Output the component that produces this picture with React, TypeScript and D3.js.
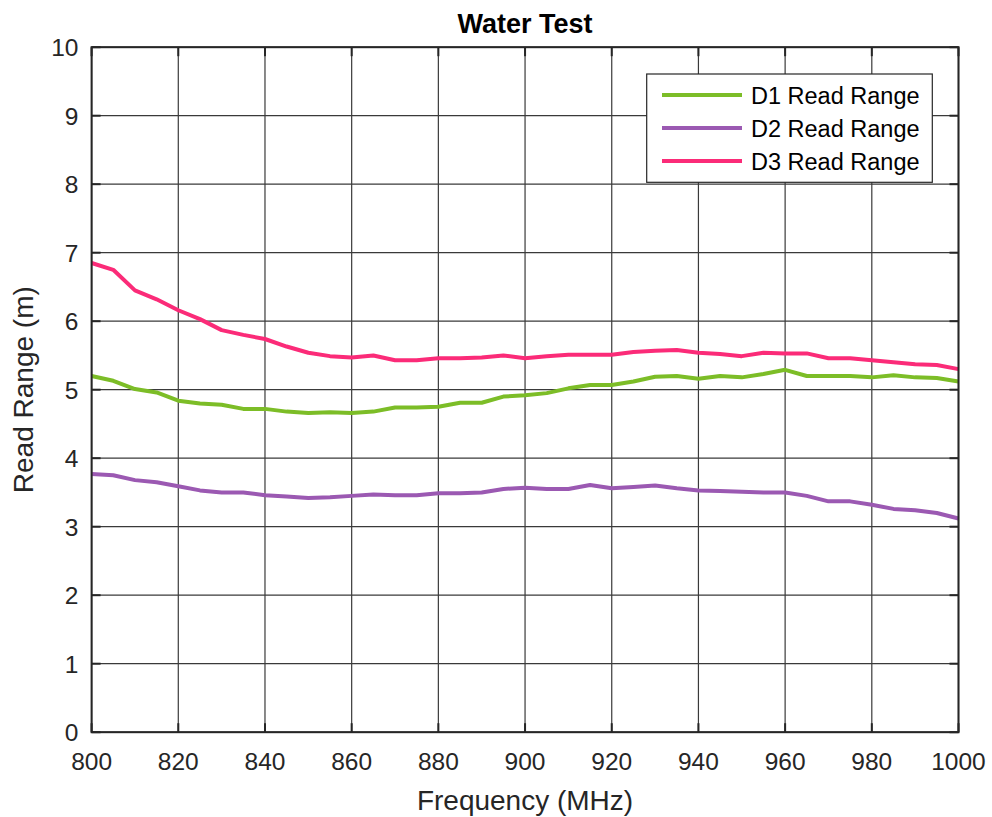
import React from "react";
import * as d3 from "d3";

const freqs: number[] = d3.range(800, 1001, 5);
const d1: number[] = [5.20, 5.13, 5.01, 4.96, 4.84, 4.80, 4.78, 4.72, 4.72, 4.68, 4.66, 4.67, 4.66, 4.68, 4.74, 4.74, 4.75, 4.81, 4.81, 4.90, 4.92, 4.95, 5.02, 5.07, 5.07, 5.12, 5.19, 5.20, 5.16, 5.20, 5.18, 5.23, 5.29, 5.20, 5.20, 5.20, 5.18, 5.21, 5.18, 5.17, 5.12];
const d2: number[] = [3.77, 3.75, 3.68, 3.65, 3.59, 3.53, 3.50, 3.50, 3.46, 3.44, 3.42, 3.43, 3.45, 3.47, 3.46, 3.46, 3.49, 3.49, 3.50, 3.55, 3.57, 3.55, 3.55, 3.61, 3.56, 3.58, 3.60, 3.56, 3.53, 3.52, 3.51, 3.50, 3.50, 3.45, 3.37, 3.37, 3.32, 3.26, 3.24, 3.20, 3.12];
const d3v: number[] = [6.85, 6.75, 6.45, 6.32, 6.16, 6.03, 5.87, 5.80, 5.74, 5.63, 5.54, 5.49, 5.47, 5.50, 5.43, 5.43, 5.46, 5.46, 5.47, 5.50, 5.46, 5.49, 5.51, 5.51, 5.51, 5.55, 5.57, 5.58, 5.54, 5.52, 5.49, 5.54, 5.53, 5.53, 5.46, 5.46, 5.43, 5.40, 5.37, 5.36, 5.30];
const seriesNames = ["D1 Read Range", "D2 Read Range", "D3 Read Range"];
const seriesColors = ["#7cbd27", "#9b59b2", "#fb2b78"];
const xTicks = d3.range(800, 1001, 20);
const yTicks = d3.range(0, 11, 1);

const W = 992, H = 817;
const M = { left: 91.6, right: 958.5, top: 47.2, bottom: 732.2 };
const FONT = "'Liberation Sans', Arial, Helvetica, sans-serif";

export default function App() {
  const x = d3.scaleLinear().domain([800, 1000]).range([M.left, M.right]);
  const y = d3.scaleLinear().domain([0, 10]).range([M.bottom, M.top]);
  const line = d3.line<number>().x((_, i) => x(freqs[i])).y((v) => y(v));
  const all = [d1, d2, d3v];
  const tickLen = 9;
  return (
    <svg width={W} height={H} style={{ position: "absolute", left: 0, top: 0, background: "#fff" }} fontFamily={FONT}>
      <rect x={0} y={0} width={W} height={H} fill="#fff" />
      {xTicks.map((t) => (
        <line key={"gx" + t} x1={x(t)} x2={x(t)} y1={M.top} y2={M.bottom} stroke="#3a3a3a" strokeWidth={1.2} />
      ))}
      {yTicks.map((t) => (
        <line key={"gy" + t} x1={M.left} x2={M.right} y1={y(t)} y2={y(t)} stroke="#3a3a3a" strokeWidth={1.2} />
      ))}
      {xTicks.map((t) => (
        <g key={"tx" + t}>
          <line x1={x(t)} x2={x(t)} y1={M.bottom} y2={M.bottom - tickLen} stroke="#262626" strokeWidth={2} />
          <line x1={x(t)} x2={x(t)} y1={M.top} y2={M.top + tickLen} stroke="#262626" strokeWidth={2} />
          <text x={x(t)} y={769.5} textAnchor="middle" fontSize={24.5} fill="#262626">{t}</text>
        </g>
      ))}
      {yTicks.map((t) => (
        <g key={"ty" + t}>
          <line x1={M.left} x2={M.left + tickLen} y1={y(t)} y2={y(t)} stroke="#262626" strokeWidth={2} />
          <line x1={M.right} x2={M.right - tickLen} y1={y(t)} y2={y(t)} stroke="#262626" strokeWidth={2} />
          <text x={78.5} y={y(t) + 9} textAnchor="end" fontSize={24.5} fill="#262626">{t}</text>
        </g>
      ))}
      {all.map((s, i) => (
        <path key={"s" + i} d={line(s) || ""} fill="none" stroke={seriesColors[i]} strokeWidth={4} strokeLinejoin="round" />
      ))}
      <rect x={M.left} y={M.top} width={M.right - M.left} height={M.bottom - M.top} fill="none" stroke="#262626" strokeWidth={2} />
      <rect x={646.7} y={74} width={285.6} height={108.3} fill="#fff" stroke="#262626" strokeWidth={1.2} />
      {seriesNames.map((n, i) => (
        <g key={"lg" + i}>
          <line x1={662} x2={742} y1={95 + i * 33} y2={95 + i * 33} stroke={seriesColors[i]} strokeWidth={4} />
          <text x={751} y={95 + i * 33 + 8.5} fontSize={23.5} fill="#000">{n}</text>
        </g>
      ))}
      <text x={(M.left + M.right) / 2} y={33} textAnchor="middle" fontSize={27} fontWeight="bold" fill="#000">Water Test</text>
      <text x={(M.left + M.right) / 2} y={810} textAnchor="middle" fontSize={28} fill="#262626">Frequency (MHz)</text>
      <text transform={`translate(33,${(M.top + M.bottom) / 2}) rotate(-90)`} textAnchor="middle" fontSize={28} fill="#262626">Read Range (m)</text>
    </svg>
  );
}
